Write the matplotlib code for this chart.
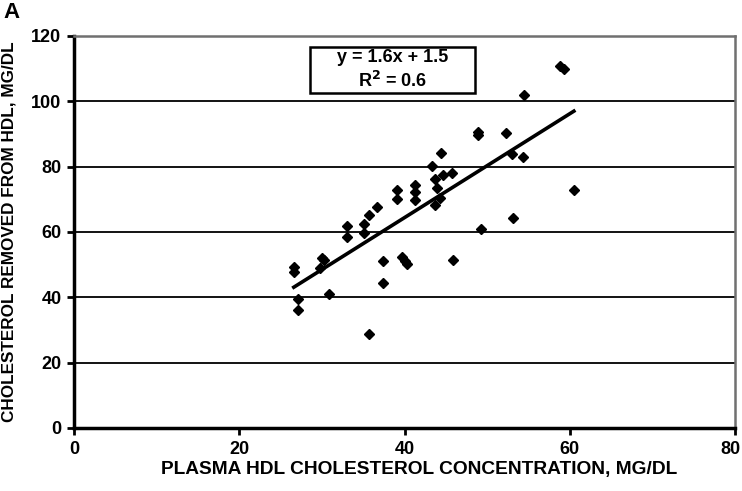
import matplotlib
matplotlib.use("Agg")
import matplotlib.pyplot as plt
import matplotlib.transforms as mtransforms
from matplotlib.patches import Rectangle
import numpy as np

hdl_conc = [26.6, 26.6, 27.1, 27.1, 30.0, 30.3, 29.8, 30.9, 33.1, 33.1,
            35.1, 35.1, 35.7, 36.7, 35.7, 37.4, 37.4, 39.7, 40.1, 40.3,
            39.1, 39.1, 41.3, 41.3, 41.3, 43.3, 44.4, 44.6, 45.8, 43.7,
            43.9, 44.3, 43.7, 45.9, 48.9, 48.9, 49.3, 52.3, 53.0, 54.4,
            53.1, 54.5, 58.8, 59.3, 60.5]
chol_removed = [49.3, 47.8, 39.5, 36.1, 52.0, 51.3, 49.0, 41.0, 61.8, 58.5,
                62.4, 59.7, 65.2, 67.6, 28.8, 51.1, 44.4, 52.3, 51.1, 50.2,
                72.9, 70.1, 74.4, 72.2, 69.8, 80.2, 84.2, 77.4, 78.1, 76.2,
                73.5, 70.4, 68.3, 51.4, 90.6, 89.7, 60.9, 90.3, 83.9, 83.0,
                64.3, 101.9, 110.8, 109.9, 72.8]
trend_slope = 1.59
trend_intercept = 0.8
equation_text = "y = 1.6x + 1.5"
r2_text = "R$\\mathbf{^2}$ = 0.6"
x_ticks = [0, 20, 40, 60, 80]
y_ticks = [0, 20, 40, 60, 80, 100, 120]

fam = ['Liberation Sans', 'DejaVu Sans']
plt.rcParams['font.family'] = fam
plt.rcParams['font.weight'] = 'bold'
plt.rcParams['mathtext.default'] = 'bf'

fig = plt.figure(figsize=(7.42, 4.91), dpi=100)
ax = fig.add_axes([74/742, 1-428/491, (735-74)/742, (428-36)/491])

ax.set_xlim(0, 80)
ax.set_ylim(0, 120)
for yv in y_ticks[1:-1]:
    ax.axhline(yv, color='black', lw=1.3, zorder=1)

ax.plot(hdl_conc, chol_removed, 'D', color='black', ms=5.5, zorder=3)
xs = np.array([min(hdl_conc), max(hdl_conc)])
ax.plot(xs, trend_slope*xs + trend_intercept, color='black', lw=2.6, zorder=2)

ax.set_xticks(x_ticks)
ax.set_yticks(y_ticks)
ax.tick_params(axis='both', direction='out', length=5, width=2, labelsize=13, pad=4)
for lbl in ax.get_xticklabels() + ax.get_yticklabels():
    lbl.set_fontweight('bold')
for s in ['left', 'bottom']:
    ax.spines[s].set_linewidth(2.5)
    ax.spines[s].set_color('black')
for s in ['top', 'right']:
    ax.spines[s].set_linewidth(1.8)
    ax.spines[s].set_color('#707070')

ax.set_xlabel("PLASMA HDL CHOLESTEROL CONCENTRATION, MG/DL", fontsize=13.8, fontweight='bold')
ax.xaxis.set_label_coords((419-74)/661, -0.085)
ax.set_ylabel("CHOLESTEROL REMOVED FROM HDL, MG/DL", fontsize=12.3, fontweight='bold')
ax.yaxis.set_label_coords(-0.087, 0.5)

ax.add_patch(Rectangle((0.357, 0.855), 0.25, 0.117, transform=ax.transAxes,
                       fc='white', ec='black', lw=1.8, zorder=5))
ax.text(0.482, 0.944, equation_text, transform=ax.transAxes, ha='center', va='center',
        fontsize=13, fontweight='bold', zorder=6)
ax.text(0.482, 0.886, r2_text, transform=ax.transAxes, ha='center', va='center',
        fontsize=13, fontweight='bold', zorder=6)

fig.text(3/742, 1-12/491, "A", fontsize=16, fontweight='bold', ha='left', va='center')

fig.canvas.draw()
last = ax.xaxis.get_major_ticks()[-1].label1
last.set_transform(last.get_transform() + mtransforms.ScaledTranslation(-5/100, 0, fig.dpi_scale_trans))

fig.savefig("out.png", dpi=100)
